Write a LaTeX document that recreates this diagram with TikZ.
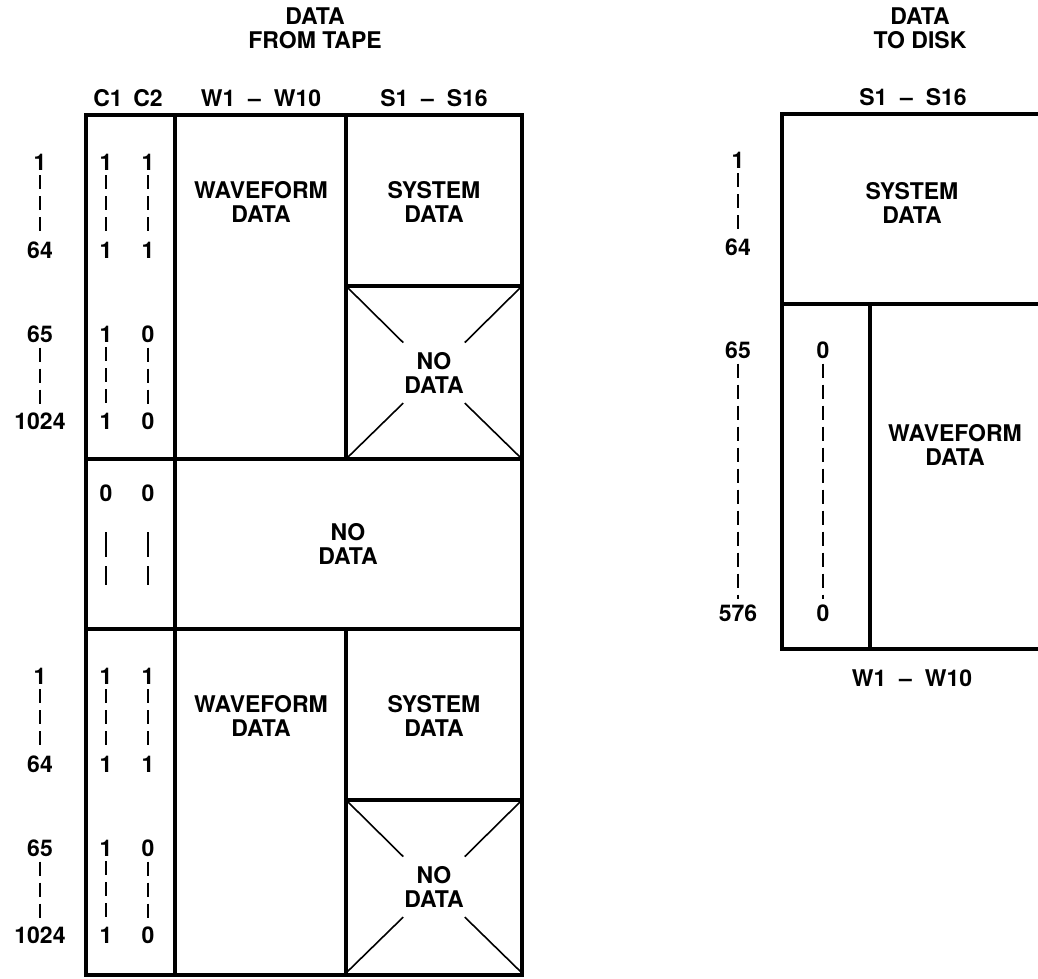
\documentclass[tikz,border=0pt]{standalone}
\usepackage{fontspec}
\setmainfont{TeX Gyre Heros}
\usetikzlibrary{calc}
\tikzset{
  lbl/.style={font=\bfseries\fontsize{23}{24}\selectfont, align=center, inner sep=0pt},
  boxline/.style={line width=3.5pt},
  rowdash/.style={line width=2pt, dash pattern=on 14pt off 7pt, shorten <=5pt, shorten >=5pt},
  cross/.style={line width=1.6pt}
}
\begin{document}
\begin{tikzpicture}[x=1pt, y=-1pt]
  \useasboundingbox (0,0) rectangle (1038,978);
  % data from tape
  \node[lbl] (tape) at (315,28) {DATA\\FROM TAPE};
  \node[lbl] (hc1) at (108,98) {C1};
  \node[lbl] (hc2) at (148,98) {C2};
  \node[lbl] (hw) at (261,98) {W1\ \ --\ \ W10};
  \node[lbl] (hs) at (434,98) {S1\ \ --\ \ S16};
  \draw[boxline] (86,115) rectangle (522,975);
  \draw[boxline] (175,115) -- (175,975);
  \draw[boxline] (86,459) -- (522,459);
  \draw[boxline] (86,629) -- (522,629);
  \foreach \T/\k in {115/a, 629/b} {
    \draw[boxline] (346,\T) -- (346,\T+344);
    \draw[boxline] (346,\T+171) -- (522,\T+171);
    \node[lbl] (\k-1) at (40,\T+47) {1};
    \node[lbl] (\k-64) at (40,\T+135) {64};
    \node[lbl] (\k-65) at (40,\T+219) {65};
    \node[lbl] (\k-1024) at (40,\T+306) {1024};
    \draw[rowdash] (\k-1) -- (\k-64);
    \draw[rowdash] (\k-65) -- (\k-1024);
    \foreach \x/\c/\v in {106/1/1, 148/2/0} {
      \node[lbl] (\k\c p) at (\x,\T+47) {1};
      \node[lbl] (\k\c q) at (\x,\T+135) {1};
      \node[lbl] (\k\c r) at (\x,\T+219) {\v};
      \node[lbl] (\k\c s) at (\x,\T+306) {\v};
      \draw[rowdash] (\k\c p) -- (\k\c q);
      \draw[rowdash] (\k\c r) -- (\k\c s);
    }
    \node[lbl] (\k-wave) at (261,\T+87) {WAVEFORM\\DATA};
    \node[lbl] (\k-sys) at (434,\T+87) {SYSTEM\\DATA};
    \node[lbl] (\k-none) at (434,\T+258) {NO\\DATA};
    \foreach \cx/\cy in {346/171, 522/171, 346/344, 522/344}
      \draw[cross] (\cx,\T+\cy) -- ($(\cx,\T+\cy)!0.65!(\k-none)$);
  }
  \node[lbl] (m1) at (106,493) {0};
  \node[lbl] (m2) at (148,493) {0};
  \coordinate (m1a) at (106,532);
  \coordinate (m1b) at (106,585);
  \coordinate (m2a) at (148,532);
  \coordinate (m2b) at (148,585);
  \draw[rowdash, dash pattern=on 25pt off 9pt, shorten <=0pt, shorten >=0pt] (m1a) -- (m1b);
  \draw[rowdash, dash pattern=on 25pt off 9pt, shorten <=0pt, shorten >=0pt] (m2a) -- (m2b);
  \node[lbl] (mnone) at (348,544) {NO\\DATA};
  % data to disk
  \node[lbl] (disk) at (920,28) {DATA\\TO DISK};
  \node[lbl] (ds) at (913,97) {S1\ \ --\ \ S16};
  \node[lbl] (dw) at (912,678) {W1\ \ --\ \ W10};
  \draw[boxline] (1045,114) -- (782,114) -- (782,649) -- (1045,649);
  \draw[boxline] (782,304) -- (1045,304);
  \draw[boxline] (870,304) -- (870,649);
  \node[lbl] (d1) at (738,160) {1};
  \node[lbl] (d64) at (738,247) {64};
  \node[lbl] (d65) at (738,350) {65};
  \node[lbl] (d576) at (738,613) {576};
  \node[lbl] (z1) at (823,350) {0};
  \node[lbl] (z2) at (823,613) {0};
  \draw[rowdash] (d1) -- (d64);
  \draw[rowdash] (d65) -- (d576);
  \draw[rowdash] (z1) -- (z2);
  \node[lbl] (dsys) at (912,203) {SYSTEM\\DATA};
  \node[lbl] (dwave) at (955,445) {WAVEFORM\\DATA};
\end{tikzpicture}
\end{document}
